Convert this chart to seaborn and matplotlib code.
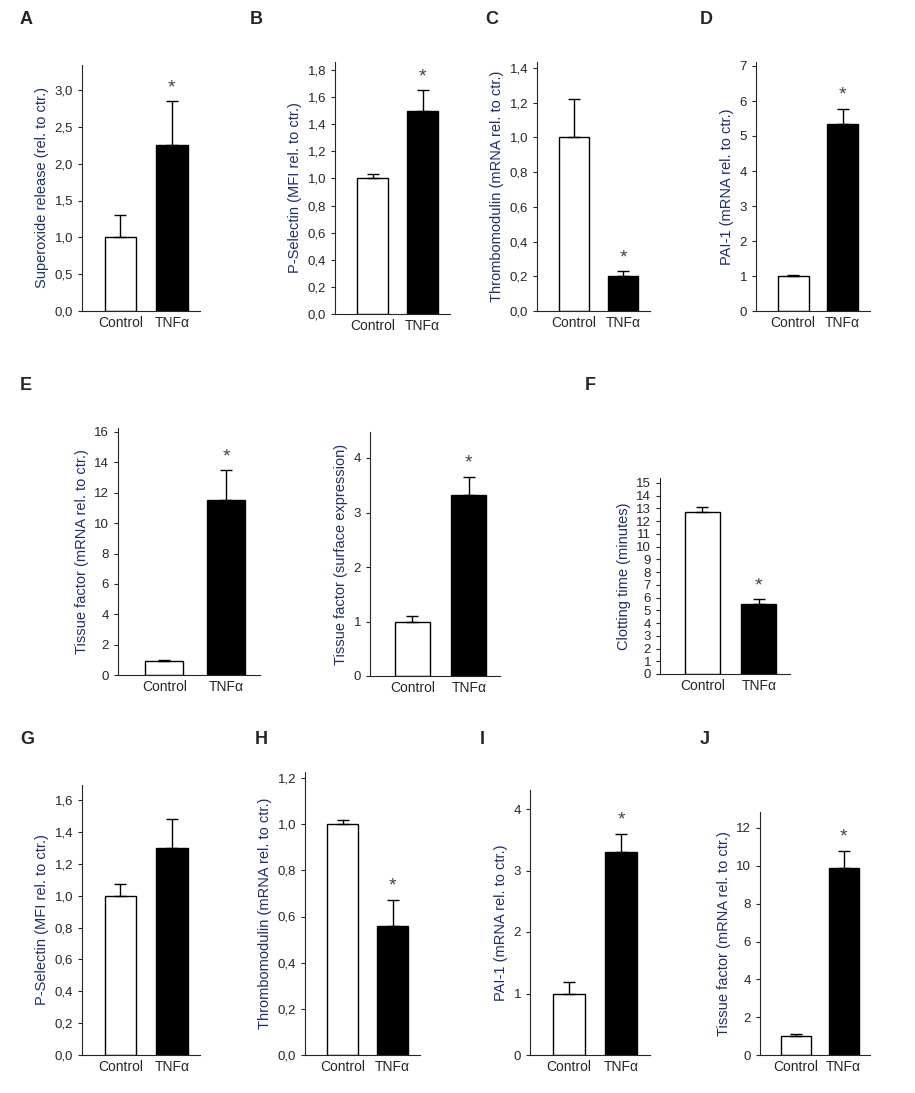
import matplotlib
matplotlib.use("Agg")
import matplotlib.pyplot as plt
import seaborn as sns
import pandas as pd
from matplotlib.ticker import FuncFormatter

sns.set_style("ticks")
plt.rcParams['font.family'] = ['Liberation Sans', 'DejaVu Sans']

groups = ["Control", "TNFα"]

# panel data: label, ylabel, means, errors, ymax, tick step, star, decimals
panel_names = ["A", "B", "C", "D", "E1", "E2", "F", "G", "H", "I", "J"]
ylabels = ["Superoxide release (rel. to ctr.)", "P-Selectin (MFI rel. to ctr.)",
           "Thrombomodulin (mRNA rel. to ctr.)", "PAI-1 (mRNA rel. to ctr.)",
           "Tissue factor (mRNA rel. to ctr.)", "Tissue factor (surface expression)",
           "Clotting time (minutes)", "P-Selectin (MFI rel. to ctr.)",
           "Thrombomodulin (mRNA rel. to ctr.)", "PAI-1 (mRNA rel. to ctr.)",
           "Tissue factor (mRNA rel. to ctr.)"]
control_vals = [1.0, 1.0, 1.0, 1.0, 0.95, 1.0, 12.7, 1.0, 1.0, 1.0, 1.0]
control_err = [0.3, 0.03, 0.22, 0.03, 0.05, 0.1, 0.4, 0.07, 0.02, 0.18, 0.1]
tnf_vals = [2.25, 1.5, 0.2, 5.33, 11.5, 3.33, 5.5, 1.3, 0.56, 3.3, 9.9]
tnf_err = [0.6, 0.15, 0.03, 0.45, 2.0, 0.33, 0.4, 0.18, 0.11, 0.3, 0.9]
tick_max = [3.0, 1.8, 1.4, 7, 16, 4, 15, 1.6, 1.2, 4, 12]
tick_step = [0.5, 0.2, 0.2, 1, 2, 1, 1, 0.2, 0.2, 1, 2]
decimals = [1, 1, 1, 0, 0, 0, 0, 1, 1, 0, 0]
stars = [True, True, True, True, True, True, True, False, True, True, True]

# layout in pixels: left, right, y of top tick, y of zero, y of axis top
W, H = 915, 1093
layout = [
    (82, 200, 90, 311, 65), (335, 450, 70, 314, 62), (537, 650, 68, 311, 62),
    (756, 870, 66, 311, 62), (118, 260, 432, 675, 428), (370, 500, 458, 676, 432),
    (660, 790, 483, 674, 478), (82, 200, 800, 1055, 785), (305, 420, 778, 1055, 772),
    (530, 650, 809, 1055, 790), (760, 870, 828, 1055, 812),
]
letters = [("A", 20, 20), ("B", 250, 20), ("C", 485, 20), ("D", 700, 20),
           ("E", 20, 385), ("F", 585, 385), ("G", 20, 740), ("H", 255, 740),
           ("I", 480, 740), ("J", 700, 740)]

fig = plt.figure(figsize=(W / 100, H / 100), dpi=100)
label_color = "#1c2f6e"

for i in range(len(panel_names)):
    l, r, ytop, y0, axtop = layout[i]
    per_unit = (y0 - ytop) / tick_max[i]
    ymax = (y0 - axtop) / per_unit
    ax = fig.add_axes([l / W, 1 - y0 / H, (r - l) / W, (y0 - axtop) / H])
    df = pd.DataFrame({"group": groups, "value": [control_vals[i], tnf_vals[i]]})
    sns.barplot(data=df, x="group", y="value", hue="group",
                palette=["white", "black"], edgecolor="black", linewidth=1,
                width=0.62, legend=False, ax=ax)
    errs = [control_err[i], tnf_err[i]]
    vals = [control_vals[i], tnf_vals[i]]
    ax.errorbar([0, 1], vals, yerr=[[0, 0], errs], fmt="none", ecolor="black",
                elinewidth=1, capsize=4, capthick=1)
    if stars[i]:
        ax.text(1, vals[1] + errs[1] + ymax * 0.02, "*", ha="center", va="bottom",
                fontsize=14, color="#444444")
    ax.set_xlim(-0.75, 1.55)
    ax.set_ylim(0, ymax)
    n = int(round(tick_max[i] / tick_step[i]))
    ax.set_yticks([k * tick_step[i] for k in range(n + 1)])
    d = decimals[i]
    ax.yaxis.set_major_formatter(FuncFormatter(
        lambda v, p, d=d: f"{v:.{d}f}".replace(".", ",")))
    ax.set_xlabel("")
    ax.set_ylabel(ylabels[i], color=label_color, fontsize=10.5)
    ax.tick_params(axis="x", length=0, labelsize=10)
    ax.tick_params(axis="y", labelsize=9.5, length=3)
    sns.despine(ax=ax)

for t, x, y in letters:
    fig.text(x / W, 1 - y / H, t, fontsize=13, fontweight="bold", va="center")

fig.savefig("out.png", dpi=100)
